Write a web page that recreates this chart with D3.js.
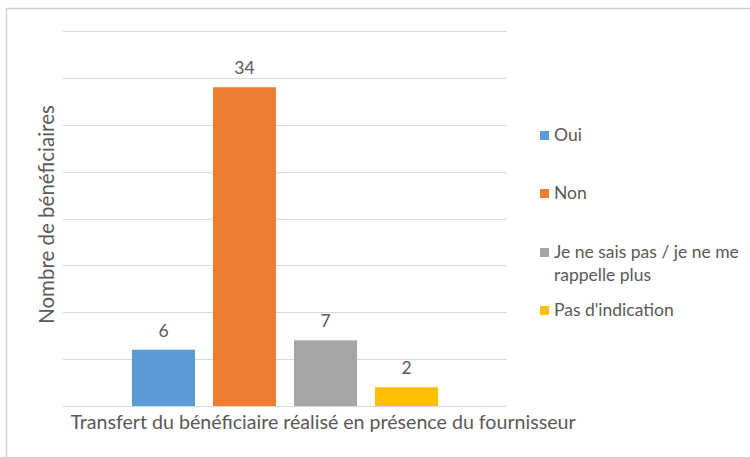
<!DOCTYPE html>
<html>
<head>
<meta charset="utf-8">
<script src="https://cdn.jsdelivr.net/npm/d3@7"></script>
<style>
    body { margin: 0; background: #fff; }
    text { font-family: Lato, "Open Sans", sans-serif; fill: #595959; }
</style>
</head>
<body>
<div id="chart"></div>
<script>
// chart data
let categories = ["Transfert du bénéficiaire réalisé en présence du fournisseur"];
let series = ["Oui", "Non", "Je ne sais pas / je ne me rappelle plus", "Pas d'indication"];
let values = [6, 34, 7, 2];
let colors = ["#5B9BD5", "#ED7D31", "#A5A5A5", "#FFC000"];
let yTicks = [0, 5, 10, 15, 20, 25, 30, 35, 40];

let width = 750, height = 457;
let margin = {top: 31, right: 243, bottom: 51, left: 63};

let svg = d3.select("#chart").append("svg")
    .attr("width", width)
    .attr("height", height);

// light frame round the chart
svg.append("rect")
    .attr("x", 6.5).attr("y", 8.5)
    .attr("width", width + 20).attr("height", height + 20)
    .attr("fill", "none")
    .attr("stroke", "#d0d0d0")
    .attr("stroke-width", 1.5);

let y = d3.scaleLinear()
    .domain([0, 40])
    .range([height - margin.bottom, margin.top]);

let x0 = d3.scaleBand()
    .domain(categories)
    .range([margin.left, width - margin.right])
    .paddingInner(0)
    .paddingOuter(0.185);

let x1 = d3.scaleBand()
    .domain(series)
    .range([0, x0.bandwidth()])
    .paddingInner(0.222)
    .paddingOuter(0.111);

// gridlines
svg.append("g").selectAll("line")
    .data(yTicks)
    .enter().append("line")
    .attr("x1", margin.left)
    .attr("x2", width - margin.right)
    .attr("y1", d => Math.round(y(d)) + 0.5)
    .attr("y2", d => Math.round(y(d)) + 0.5)
    .attr("stroke", "#d9d9d9")
    .attr("stroke-width", 1);

// bars
let groups = svg.append("g").selectAll("g")
    .data(categories)
    .enter().append("g")
    .attr("transform", d => `translate(${x0(d)},0)`);

groups.selectAll("rect")
    .data(series.map((s, i) => ({s: s, v: values[i], c: colors[i]})))
    .enter().append("rect")
    .attr("x", d => x1(d.s))
    .attr("width", x1.bandwidth())
    .attr("y", d => y(d.v))
    .attr("height", d => y(0) - y(d.v))
    .attr("fill", d => d.c);

// value labels
groups.selectAll("text.val")
    .data(series.map((s, i) => ({s: s, v: values[i]})))
    .enter().append("text")
    .attr("class", "val")
    .attr("x", d => x1(d.s) + x1.bandwidth() / 2)
    .attr("y", d => y(d.v) - 13)
    .attr("text-anchor", "middle")
    .style("font-size", "17.5px")
    .text(d => d.v);

// category label
svg.append("g").selectAll("text")
    .data(categories)
    .enter().append("text")
    .attr("x", d => x0(d) + x0.bandwidth() / 2 + 38)
    .attr("y", height - margin.bottom + 23)
    .attr("text-anchor", "middle")
    .style("font-size", "19.6px")
    .text(d => d);

// y axis title
svg.append("text")
    .attr("transform", `translate(54, ${(y(0) + y(40)) / 2 - 4}) rotate(-90)`)
    .attr("text-anchor", "middle")
    .style("font-size", "20.5px")
    .text("Nombre de bénéficiaires");

// legend
let legendY = [135, 193, 252, 310];
let legend = svg.append("g").selectAll("g")
    .data(series)
    .enter().append("g")
    .attr("transform", (d, i) => `translate(540, ${legendY[i]})`);

legend.append("rect")
    .attr("x", 0).attr("y", -4)
    .attr("width", 9).attr("height", 9)
    .attr("fill", (d, i) => colors[i]);

legend.append("text")
    .attr("x", 14)
    .attr("y", 6)
    .style("font-size", "17.5px")
    .each(function(d) {
        // wrap long legend entries
        let t = d3.select(this);
        let words = d.split(" ");
        let line = [];
        let tspan = t.append("tspan").attr("x", 14).attr("dy", 0);
        words.forEach(w => {
            line.push(w);
            tspan.text(line.join(" "));
            if (tspan.node().getComputedTextLength() > 195 && line.length > 1) {
                line.pop();
                tspan.text(line.join(" "));
                line = [w];
                tspan = t.append("tspan").attr("x", 14).attr("dy", 23).text(w);
            }
        });
    });
</script>
</body>
</html>
